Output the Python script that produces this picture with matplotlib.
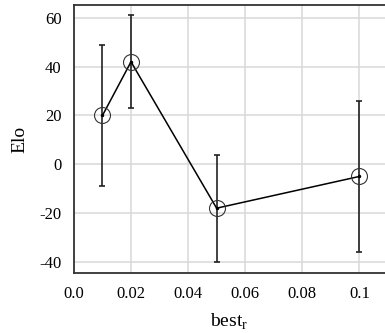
import matplotlib
matplotlib.use('Agg')
import matplotlib.pyplot as plt

# values
best_r = [0.01, 0.02, 0.05, 0.1]
elo = [20, 42, -18, -5]
err_lo = [-9, 23, -40, -36]
err_hi = [49, 61, 4, 26]
xticks = [0.0, 0.02, 0.04, 0.06, 0.08, 0.1]
xticklabels = ['0.0', '0.02', '0.04', '0.06', '0.08', '0.1']
yticks = [-40, -20, 0, 20, 40, 60]
yticklabels = ['-40', '-20', '0', '20', '40', '60']

plt.rcParams['font.family'] = ['Liberation Serif', 'DejaVu Serif']

fig = plt.figure(figsize=(3.85, 3.33), dpi=100)
ax = fig.add_axes([0.192, 0.18, 0.808, 0.805])

yerr = [[e - lo for e, lo in zip(elo, err_lo)], [hi - e for e, hi in zip(elo, err_hi)]]
ax.errorbar(best_r, elo, yerr=yerr, fmt='none', ecolor='#222222', elinewidth=1.2,
            capsize=2.3, capthick=1.2, zorder=3)
ax.plot(best_r, elo, color='black', lw=1.1, marker='.', ms=3, zorder=4)
ax.plot(best_r, elo, ls='none', marker='o', ms=11.5, mfc='none', mec='#333333',
        mew=0.8, zorder=5)

ax.set_xlim(0, 0.109)
ax.set_ylim(-44.6, 65.3)
ax.set_xticks(xticks)
ax.set_xticklabels(xticklabels)
ax.set_yticks(yticks)
ax.set_yticklabels(yticklabels)
ax.tick_params(length=0, pad=9, labelsize=12)
ax.grid(True, color='#d9d9d9', lw=1.1)
ax.set_axisbelow(True)

for s in ['left', 'bottom', 'top']:
    ax.spines[s].set_color('#333333')
    ax.spines[s].set_linewidth(1.3)
ax.spines['right'].set_visible(False)

ax.set_xlabel(r'best$_\mathregular{r}$', fontsize=14, labelpad=7)
ax.set_ylabel('Elo', fontsize=14, labelpad=8)

fig.savefig('out.png', dpi=100)
